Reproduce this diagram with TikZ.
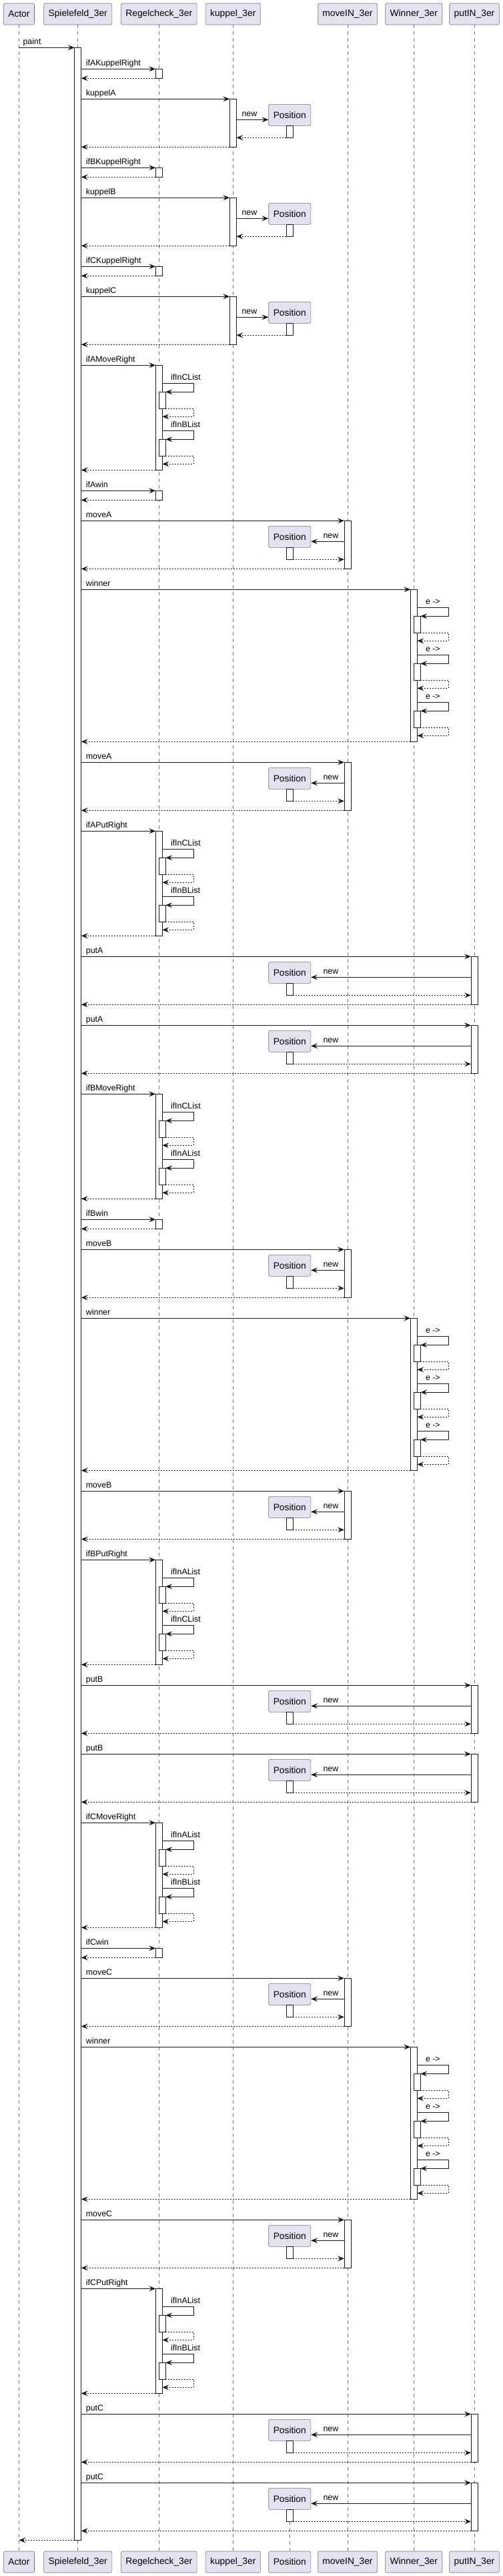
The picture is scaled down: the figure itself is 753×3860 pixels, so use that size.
\documentclass[tikz,border=0pt]{standalone}
\usepackage{fontspec}
\setmainfont{Liberation Sans}
\usepackage{tikz}
\usetikzlibrary{arrows.meta}

\definecolor{partfill}{HTML}{E2E2F0}
\definecolor{seqline}{HTML}{181818}

% x of the lifelines
\pgfmathsetmacro{\xAct}{28.4}
\pgfmathsetmacro{\xSp}{116.7}
\pgfmathsetmacro{\xRc}{238.3}
\pgfmathsetmacro{\xKu}{349.3}
\pgfmathsetmacro{\xPos}{434.3}
\pgfmathsetmacro{\xMv}{521}
\pgfmathsetmacro{\xWn}{620.3}
\pgfmathsetmacro{\xPt}{711}

\tikzset{
    participant/.style={draw=black!55, fill=partfill, line width=0.6pt, rounded corners=2.5pt,
        minimum height=32pt, inner xsep=7pt, font=\fontsize{13.8}{16}\selectfont},
    lifeline/.style={draw=black!55, line width=0.5pt, dash pattern=on 5pt off 5pt},
    msg/.style={draw=seqline, line width=0.9pt, -{Stealth[length=10pt,width=8pt,inset=4pt]}},
    reply/.style={msg, dash pattern=on 2pt off 2pt},
    actbar/.style={draw=seqline, fill=white, line width=0.9pt},
    msglabel/.style={font=\fontsize{12.4}{14}\selectfont, inner sep=0pt, anchor=base west}
}

% short call to Regelcheck_3er
\newcommand{\simplecall}[2]{%
    \pgfmathsetmacro{\yEnd}{#1+14}
    \path[actbar] (\xRc-5,#1) rectangle (\xRc+5,\yEnd);
    \path[msg] (\xSp+5,#1) -- (\xRc-5,#1);
    \node[msglabel] at (\xSp+12,#1-5) {#2};
    \path[reply] (\xRc-5,\yEnd) -- (\xSp+5,\yEnd);
}

% self call with its own activation
\newcommand{\selfcall}[3]{%
    \pgfmathsetmacro{\yIn}{#2+13}
    \pgfmathsetmacro{\yOut}{#2+38}
    \pgfmathsetmacro{\yRet}{#2+50}
    \path[actbar] (#1,\yIn) rectangle (#1+10,\yOut);
    \path[msg] (#1+5,#2) -- (#1+52,#2) -- (#1+52,\yIn) -- (#1+10,\yIn);
    \node[msglabel] at (#1+17.5,#2-5) {#3};
    \path[reply] (#1+10,\yOut) -- (#1+52,\yOut) -- (#1+52,\yRet) -- (#1+5,\yRet);
}

% check with two list lookups
\newcommand{\regelcall}[4]{%
    \pgfmathsetmacro{\yEnd}{#1+157}
    \path[actbar] (\xRc-5,#1) rectangle (\xRc+5,\yEnd);
    \path[msg] (\xSp+5,#1) -- (\xRc-5,#1);
    \node[msglabel] at (\xSp+12,#1-5) {#2};
    \selfcall{\xRc}{#1+27}{#3}
    \selfcall{\xRc}{#1+98}{#4}
    \pgfmathsetmacro{\yEnd}{#1+157}
    \path[reply] (\xRc-5,\yEnd) -- (\xSp+5,\yEnd);
}

% winner check
\newcommand{\winnercall}[1]{%
    \pgfmathsetmacro{\yEnd}{#1+228}
    \path[actbar] (\xWn-5,#1) rectangle (\xWn+5,\yEnd);
    \path[msg] (\xSp+5,#1) -- (\xWn-5,#1);
    \node[msglabel] at (\xSp+12,#1-5) {winner};
    \selfcall{\xWn}{#1+27}{e ->}
    \selfcall{\xWn}{#1+98}{e ->}
    \selfcall{\xWn}{#1+169}{e ->}
    \pgfmathsetmacro{\yEnd}{#1+228}
    \path[reply] (\xWn-5,\yEnd) -- (\xSp+5,\yEnd);
}

% kuppel_3er creates a Position on its right
\newcommand{\kuppelcall}[3]{%
    \pgfmathsetmacro{\yNew}{#2+31}
    \pgfmathsetmacro{\yBack}{#2+58}
    \pgfmathsetmacro{\yEnd}{#2+72}
    \path[actbar] (\xKu-5,#2) rectangle (\xKu+5,\yEnd);
    \path[msg] (\xSp+5,#2) -- (\xKu-5,#2);
    \node[msglabel] at (\xSp+12,#2-5) {#3};
    \node[participant] (#1) at (\xPos,#2+24) {Position};
    \path[actbar] (\xPos-5,#2+40) rectangle (\xPos+5,\yBack);
    \path[msg] (\xKu+5,\yNew) -- (#1.west |- 0,\yNew);
    \node[msglabel] at (\xKu+13,\yNew-5) {new};
    \path[reply] (\xPos-5,\yBack) -- (\xKu+5,\yBack);
    \path[reply] (\xKu-5,\yEnd) -- (\xSp+5,\yEnd);
}

% moveIN_3er / putIN_3er create a Position on their left
\newcommand{\farcall}[4]{%
    \pgfmathsetmacro{\yNew}{#2+31}
    \pgfmathsetmacro{\yBack}{#2+58}
    \pgfmathsetmacro{\yEnd}{#2+72}
    \path[actbar] (#3-5,#2) rectangle (#3+5,\yEnd);
    \path[msg] (\xSp+5,#2) -- (#3-5,#2);
    \node[msglabel] at (\xSp+12,#2-5) {#4};
    \node[participant] (#1) at (\xPos,#2+24) {Position};
    \path[actbar] (\xPos-5,#2+40) rectangle (\xPos+5,\yBack);
    \path[msg] (#3-5,\yNew) -- (#1.east |- 0,\yNew);
    \node[msglabel] at (\xPos+50,\yNew-5) {new};
    \path[reply] (\xPos+5,\yBack) -- (#3-5,\yBack);
    \path[reply] (#3-5,\yEnd) -- (\xSp+5,\yEnd);
}

\begin{document}
\begin{tikzpicture}[x=1pt, y=-1pt]

    \useasboundingbox (0,0) rectangle (753,3860);

    % participants and lifelines
    \foreach \id/\x/\txt in {act/\xAct/Actor, sp/\xSp/Spielefeld\_3er, rc/\xRc/Regelcheck\_3er,
        ku/\xKu/kuppel\_3er, mv/\xMv/moveIN\_3er, wn/\xWn/Winner\_3er, pt/\xPt/putIN\_3er} {
        \node[participant] (top-\id) at (\x,21) {\txt};
        \node[participant] (bot-\id) at (\x,3839) {\txt};
        \path[lifeline] (top-\id) -- (bot-\id);
    }
    \node[participant] (bot-pos) at (\xPos,3839) {Position};

    % Spielefeld_3er is active the whole time
    \path[actbar] (\xSp-5,71.3) rectangle (\xSp+5,3806.3);
    \path[msg] (top-act |- 0,71.3) -- (\xSp-5,71.3);
    \node[msglabel] at (\xAct+6,66.3) {paint};

    % player A
    \simplecall{103.3}{ifAKuppelRight}
    \kuppelcall{posA}{148.3}{kuppelA}
    \simplecall{251.3}{ifBKuppelRight}
    \kuppelcall{posB}{296.3}{kuppelB}
    \simplecall{399.3}{ifCKuppelRight}
    \kuppelcall{posC}{444.3}{kuppelC}
    \regelcall{547.3}{ifAMoveRight}{ifInCList}{ifInBList}
    \simplecall{735.3}{ifAwin}
    \farcall{posD}{780.3}{\xMv}{moveA}
    \winnercall{883.3}
    \farcall{posE}{1142.3}{\xMv}{moveA}
    \regelcall{1245.3}{ifAPutRight}{ifInCList}{ifInBList}
    \farcall{posF}{1433.3}{\xPt}{putA}
    \farcall{posG}{1536.3}{\xPt}{putA}

    % player B
    \regelcall{1639.3}{ifBMoveRight}{ifInCList}{ifInAList}
    \simplecall{1827.3}{ifBwin}
    \farcall{posH}{1872.3}{\xMv}{moveB}
    \winnercall{1975.3}
    \farcall{posI}{2234.3}{\xMv}{moveB}
    \regelcall{2337.3}{ifBPutRight}{ifInAList}{ifInCList}
    \farcall{posJ}{2525.3}{\xPt}{putB}
    \farcall{posK}{2628.3}{\xPt}{putB}

    % player C
    \regelcall{2731.3}{ifCMoveRight}{ifInAList}{ifInBList}
    \simplecall{2919.3}{ifCwin}
    \farcall{posL}{2964.3}{\xMv}{moveC}
    \winnercall{3067.3}
    \farcall{posM}{3326.3}{\xMv}{moveC}
    \regelcall{3429.3}{ifCPutRight}{ifInAList}{ifInBList}
    \farcall{posN}{3617.3}{\xPt}{putC}
    \farcall{posO}{3720.3}{\xPt}{putC}

    % last Position lives on, answer to the actor
    \path[lifeline] (\xPos,3778.3) -- (bot-pos);
    \path[reply] (\xSp-5,3806.3) -- (top-act |- 0,3806.3);

\end{tikzpicture}
\end{document}
